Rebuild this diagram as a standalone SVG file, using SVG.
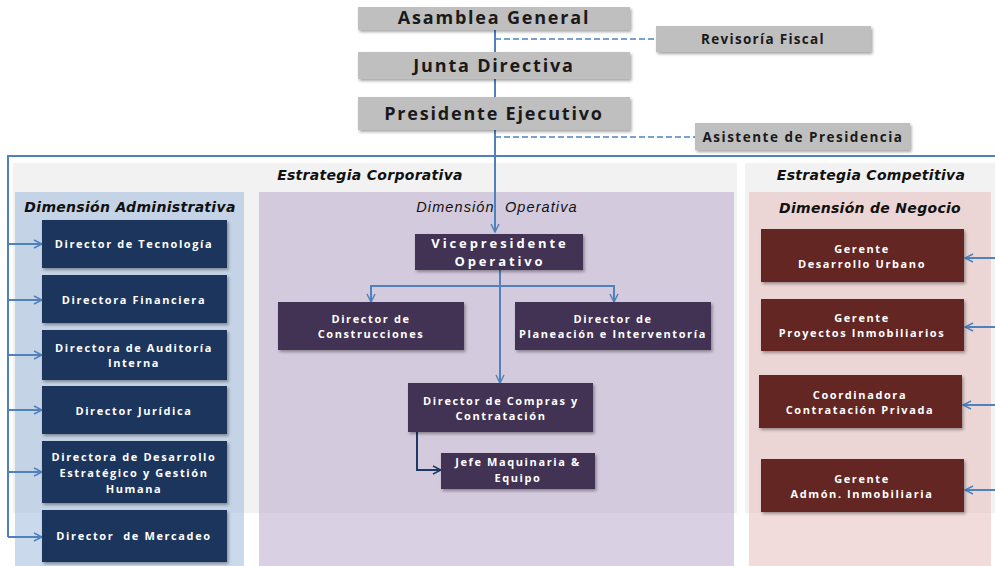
<svg xmlns="http://www.w3.org/2000/svg" width="995" height="566" viewBox="0 0 995 566">
<defs>
<filter id="sh" x="-10%" y="-10%" width="125%" height="135%">
<feDropShadow dx="1.5" dy="2" stdDeviation="1.5" flood-color="#000" flood-opacity="0.35"/>
</filter>
<marker id="ar" viewBox="0 0 10 10" refX="9" refY="5" markerWidth="10" markerHeight="10" markerUnits="userSpaceOnUse" orient="auto">
<path d="M1,1 L9,5 L1,9" fill="none" stroke="#4F81BD" stroke-width="1.5"/>
</marker>
<marker id="ard" viewBox="0 0 10 10" refX="9" refY="5" markerWidth="10" markerHeight="10" markerUnits="userSpaceOnUse" orient="auto">
<path d="M1,1 L9,5 L1,9" fill="none" stroke="#1F3864" stroke-width="1.5"/>
</marker>
</defs>
<style>
.top{fill:#BFBFBF;filter:url(#sh)}
.blue{fill:#1B365C;filter:url(#sh)}
.pur{fill:#433152;filter:url(#sh)}
.red{fill:#632523;filter:url(#sh)}
.tt{font-family:"Open Sans","Liberation Sans",sans-serif;font-weight:bold;fill:#1a1a1a;text-anchor:middle}
.bt{font-family:"Open Sans","Liberation Sans",sans-serif;font-weight:bold;fill:#fff;font-size:11px;letter-spacing:1.6px;text-anchor:middle;white-space:pre}
.vp{font-size:13px;letter-spacing:2.9px}
.hd{font-family:"DejaVu Sans","Liberation Sans",sans-serif;font-weight:bold;font-style:italic;fill:#111;font-size:14px;letter-spacing:0.3px;text-anchor:middle}
.ln{fill:none;stroke:#4F81BD;stroke-width:2}
.ds{fill:none;stroke:#4F81BD;stroke-width:1.5;stroke-dasharray:6,3}
</style>
<g id="panels">
<rect x="13" y="163" width="724" height="350" fill="#F2F2F2"/>
<rect x="745" y="163" width="250" height="350" fill="#F2F2F2"/>
<rect x="15" y="192" width="229" height="374" fill="#95B3D7" fill-opacity="0.5"/>
<rect x="259" y="192" width="475" height="374" fill="#B3A2C7" fill-opacity="0.5"/>
<rect x="749" y="192" width="242" height="374" fill="#E6B9B8" fill-opacity="0.5"/>
<text class="hd" x="370" y="180">Estrategia Corporativa</text>
<text class="hd" x="871" y="180">Estrategia Competitiva</text>
<text class="hd" x="130" y="212">Dimensión Administrativa</text>
<text x="497" y="212" style="font-family:'Liberation Sans',sans-serif;font-style:italic;font-size:14.5px;letter-spacing:1.1px;text-anchor:middle;fill:#111;white-space:pre">Dimensión  Operativa</text>
<text class="hd" x="870" y="213">Dimensión de Negocio</text>
</g>
<g id="connectors">
<path class="ln" d="M495,30 V232" marker-end="url(#ar)"/>
<path class="ds" d="M495,39 H656"/>
<path class="ds" d="M495,137 H695"/>
<path class="ln" d="M995,156 H8 V537"/>
<path class="ln" d="M8,244 H42" marker-end="url(#ar)"/>
<path class="ln" d="M8,300 H42" marker-end="url(#ar)"/>
<path class="ln" d="M8,355 H42" marker-end="url(#ar)"/>
<path class="ln" d="M8,410 H42" marker-end="url(#ar)"/>
<path class="ln" d="M8,472 H42" marker-end="url(#ar)"/>
<path class="ln" d="M8,537 H42" marker-end="url(#ar)"/>
<path class="ln" d="M995,258 H965" marker-end="url(#ar)"/>
<path class="ln" d="M995,327 H965" marker-end="url(#ar)"/>
<path class="ln" d="M995,405 H963" marker-end="url(#ar)"/>
<path class="ln" d="M995,490 H965" marker-end="url(#ar)"/>
<path class="ln" d="M500,270 V383" marker-end="url(#ar)"/>
<path class="ln" d="M500,286 H371 V302" marker-end="url(#ar)"/>
<path class="ln" d="M500,286 H614 V302" marker-end="url(#ar)"/>
<path d="M417,432 V470 H441" fill="none" stroke="#1F3864" stroke-width="2" marker-end="url(#ard)"/>
</g>
<g id="asamblea"><rect class="top" x="358" y="7" width="272" height="23"/><text class="tt" x="494" y="24" font-size="18" letter-spacing="1.8">Asamblea General</text></g>
<g id="revisoria"><rect class="top" x="656" y="26" width="215" height="26"/><text class="tt" x="763" y="44" font-size="13.5" letter-spacing="1.3">Revisoría Fiscal</text></g>
<g id="junta"><rect class="top" x="358" y="52" width="272" height="27"/><text class="tt" x="494" y="72" font-size="18" letter-spacing="1.8">Junta Directiva</text></g>
<g id="presidente"><rect class="top" x="358" y="97" width="272" height="33"/><text class="tt" x="494" y="120" font-size="18" letter-spacing="1.8">Presidente Ejecutivo</text></g>
<g id="asistente"><rect class="top" x="695" y="123" width="215" height="27"/><text class="tt" x="803" y="142" font-size="13.5" letter-spacing="1.5">Asistente de Presidencia</text></g>
<g id="tecnologia"><rect class="blue" x="42" y="220" width="185" height="48"/><text class="bt" x="134" y="248">Director de Tecnología</text></g>
<g id="financiera"><rect class="blue" x="42" y="275" width="185" height="48"/><text class="bt" x="134" y="304">Directora Financiera</text></g>
<g id="auditoria"><rect class="blue" x="42" y="330" width="185" height="50"/><text class="bt" x="134" y="352">Directora de Auditoría</text><text class="bt" x="134" y="367">Interna</text></g>
<g id="juridica"><rect class="blue" x="42" y="386" width="185" height="48"/><text class="bt" x="134" y="415">Director Jurídica</text></g>
<g id="desarrollo"><rect class="blue" x="42" y="441" width="185" height="62"/><text class="bt" x="134" y="461">Directora de Desarrollo</text><text class="bt" x="134" y="477">Estratégico y Gestión</text><text class="bt" x="134" y="493">Humana</text></g>
<g id="mercadeo"><rect class="blue" x="42" y="510" width="185" height="52"/><text class="bt" x="134" y="540">Director  de Mercadeo</text></g>
<g id="vicepresidente"><rect class="pur" x="415" y="234" width="168" height="36"/><text class="bt vp" x="500" y="248">Vicepresidente</text><text class="bt vp" x="500" y="266">Operativo</text></g>
<g id="construcciones"><rect class="pur" x="278" y="302" width="186" height="48"/><text class="bt" x="371" y="323">Director de</text><text class="bt" x="371" y="338">Construcciones</text></g>
<g id="planeacion"><rect class="pur" x="515" y="302" width="196" height="48"/><text class="bt" x="613" y="323">Director de</text><text class="bt" x="613" y="338">Planeación e Interventoría</text></g>
<g id="compras"><rect class="pur" x="408" y="383" width="185" height="49"/><text class="bt" x="501" y="405">Director de Compras y</text><text class="bt" x="501" y="420">Contratación</text></g>
<g id="maquinaria"><rect class="pur" x="441" y="453" width="154" height="36"/><text class="bt" x="518" y="466">Jefe Maquinaria &amp;</text><text class="bt" x="518" y="482">Equipo</text></g>
<g id="urbano"><rect class="red" x="761" y="229" width="203" height="53"/><text class="bt" x="862" y="253">Gerente</text><text class="bt" x="862" y="268">Desarrollo Urbano</text></g>
<g id="proyectos"><rect class="red" x="761" y="299" width="203" height="52"/><text class="bt" x="862" y="322">Gerente</text><text class="bt" x="862" y="337">Proyectos Inmobiliarios</text></g>
<g id="coordinadora"><rect class="red" x="759" y="375" width="203" height="53"/><text class="bt" x="860" y="399">Coordinadora</text><text class="bt" x="860" y="414">Contratación Privada</text></g>
<g id="admon"><rect class="red" x="761" y="459" width="203" height="53"/><text class="bt" x="862" y="483">Gerente</text><text class="bt" x="862" y="498">Admón. Inmobiliaria</text></g>
</svg>
